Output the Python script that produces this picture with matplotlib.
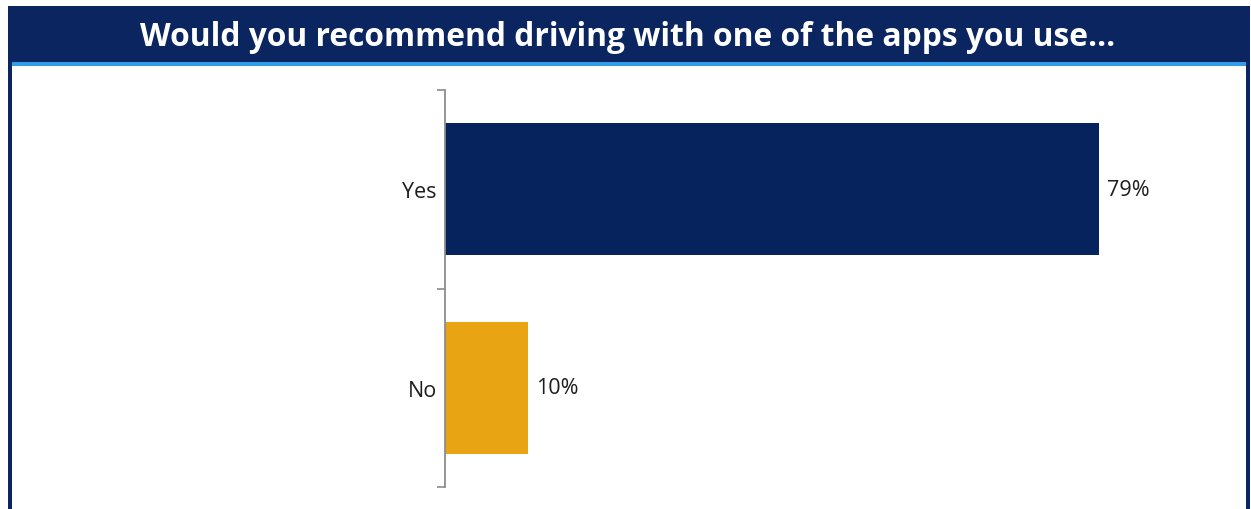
import matplotlib
matplotlib.use("Agg")
import matplotlib.pyplot as plt
from matplotlib.patches import Rectangle

categories = ["Yes", "No"]
values = [79, 10]
value_labels = ["79%", "10%"]
bar_colors = ["#06235E", "#E8A413"]
title = "Would you recommend driving with one of the apps you use…"

W, H = 1251, 510
fig = plt.figure(figsize=(W / 100, H / 100), dpi=100)
fig.patch.set_facecolor("white")

def px(x0, y0, x1, y1):
    return (x0 / W, 1 - y1 / H, (x1 - x0) / W, (y1 - y0) / H)

navy = "#0A2560"
# frame borders
for (x0, y0, x1, y1, c) in [
    (8, 7, 1250, 63, navy),
    (8, 7, 12, 510, navy),
    (1246, 7, 1250, 510, navy),
    (12, 63, 1246, 67, "#2F9DE8"),
]:
    l, b, w, h = px(x0, y0, x1, y1)
    fig.patches.append(Rectangle((l, b), w, h, transform=fig.transFigure,
                                 facecolor=c, edgecolor="none", zorder=0))

fig.text(628 / W, 1 - 38 / H, title, color="white", fontsize=22.9,
         fontweight="bold", family=["Open Sans", "DejaVu Sans"],
         ha="center", va="center")

ax_left, ax_right, ax_top, ax_bottom = 445, 1240, 91, 488
ax = fig.add_axes(px(ax_left, ax_top, ax_right, ax_bottom))
pos = list(range(len(categories)))
ax.barh(pos, values, height=0.667, color=bar_colors, zorder=2)
scale = 654 / 79  # px per percent
ax.set_xlim(0, (ax_right - ax_left) / scale)
ax.set_ylim(len(categories) - 0.5, -0.5)
ax.set_yticks(pos)
ax.set_yticklabels(categories, fontsize=15.5, color="#1E1E1E",
                   family=["Open Sans", "DejaVu Sans"])
ax.set_yticks([i - 0.5 for i in range(len(categories) + 1)], minor=True)
ax.tick_params(axis="y", which="major", length=0, pad=6)
ax.tick_params(axis="y", which="minor", length=6, width=1.2, color="#8C8C8C")
ax.set_xticks([])
for s in ["top", "right", "bottom"]:
    ax.spines[s].set_visible(False)
ax.spines["left"].set_color("#8C8C8C")
ax.spines["left"].set_linewidth(1.3)
for i, (v, lab) in enumerate(zip(values, value_labels)):
    ax.annotate(lab, (v, i), xytext=(8, 0), textcoords="offset pixels",
                va="center", ha="left", fontsize=15.5, color="#1E1E1E",
                family=["Open Sans", "DejaVu Sans"])

fig.savefig("out.png", dpi=100)
